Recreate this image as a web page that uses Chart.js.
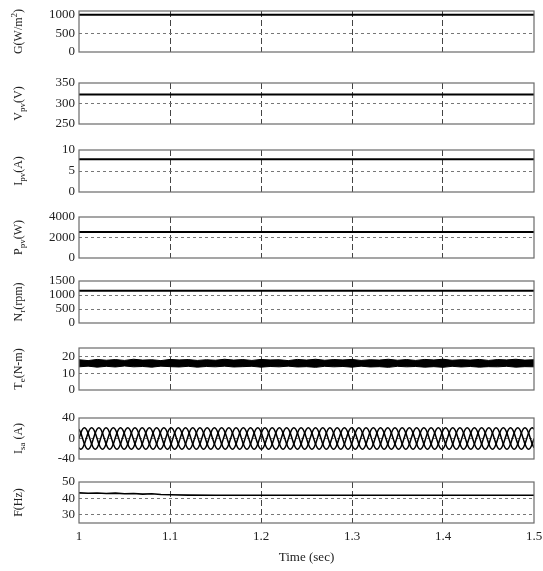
<!DOCTYPE html>
<html>
<head>
<meta charset="utf-8">
<script src="https://cdn.jsdelivr.net/npm/chart.js@4.4.0/dist/chart.umd.min.js"></script>
<style>
  html, body { margin: 0; padding: 0; background: #fff; }
  #wrap { position: relative; width: 543px; height: 571px; overflow: hidden; }
  #wrap canvas { position: absolute; left: 0; }
</style>
</head>
<body>
<div id="wrap"></div>
<script>
// ---- data ----
const timeTicks = [1, 1.1, 1.2, 1.3, 1.4, 1.5];
const flatTime = [1, 1.5];

const gTicks = [0, 500, 1000];
const gValues = [1000, 1000];

const vpvTicks = [250, 300, 350];
const vpvValues = [322, 322];

const ipvTicks = [0, 5, 10];
const ipvValues = [7.8, 7.8];

const ppvTicks = [0, 2000, 4000];
const ppvValues = [2530, 2530];

const nrTicks = [0, 500, 1000, 1500];
const nrValues = [1155, 1155];

// torque ripple band (upper / lower edge)
const teTicks = [0, 10, 20];
const teTime  = [1.00, 1.01, 1.02, 1.03, 1.04, 1.05, 1.06, 1.07, 1.08, 1.09, 1.10, 1.11, 1.12,
                 1.13, 1.14, 1.15, 1.16, 1.17, 1.18, 1.19, 1.20, 1.21, 1.22, 1.23, 1.24, 1.25,
                 1.26, 1.27, 1.28, 1.29, 1.30, 1.31, 1.32, 1.33, 1.34, 1.35, 1.36, 1.37, 1.38,
                 1.39, 1.40, 1.41, 1.42, 1.43, 1.44, 1.45, 1.46, 1.47, 1.48, 1.49, 1.50];
const teUpper = [18.0, 17.5, 18.2, 17.7, 18.1, 17.6, 18.3, 17.8, 18.0, 17.5, 18.2, 17.9, 18.1,
                 17.6, 18.0, 17.7, 18.3, 17.8, 18.1, 17.6, 18.2, 17.9, 18.0, 17.5, 18.2, 17.8,
                 18.3, 17.7, 18.1, 17.9, 18.2, 17.6, 18.0, 17.8, 18.3, 17.7, 18.1, 17.6, 18.2,
                 17.9, 18.3, 17.7, 18.0, 17.8, 18.2, 17.6, 18.1, 17.9, 18.3, 17.8, 18.0];
const teLower = [13.8, 14.2, 13.6, 14.1, 13.7, 14.3, 13.8, 14.0, 13.6, 14.2, 13.9, 13.7, 14.1,
                 13.6, 14.0, 13.8, 14.2, 13.7, 13.9, 14.1, 13.6, 14.0, 13.8, 14.2, 13.7, 13.9,
                 13.5, 14.1, 13.8, 14.0, 13.6, 14.2, 13.7, 13.9, 13.5, 14.1, 13.8, 14.0, 13.6,
                 13.9, 13.5, 14.1, 13.7, 14.0, 13.6, 13.9, 13.8, 14.1, 13.6, 13.9, 13.8];

// stator current: one sampled cycle of phase a, repeated at the supply period
const isaTicks = [-40, 0, 40];
const isaCycle = [0, 10.5, 18.2, 21, 18.2, 10.5, 0, -10.5, -18.2, -21, -18.2, -10.5];
const isaPeriod = 1 / 42;

const fTicks = [30, 40, 50];
const fTime   = [1.00, 1.01, 1.02, 1.03, 1.04, 1.05, 1.06, 1.07, 1.08, 1.09, 1.10, 1.12, 1.15, 1.50];
const fValues = [43.4, 43.1, 43.3, 43.0, 43.2, 42.8, 43.0, 42.6, 42.8, 42.4, 42.2, 42.0, 41.9, 41.9];

// ---- helpers ----
const pts = (xs, ys) => xs.map((x, i) => ({ x: x, y: ys[i] }));

function isaPhase(shift) {
    const n = isaCycle.length, step = isaPeriod / n, out = [];
    for (let k = 0; k * step <= 0.5 + 1e-9; k++) {
        out.push({ x: 1 + k * step, y: isaCycle[(k + shift) % n] });
    }
    return out;
}

const line = (data, w) => ({ data, borderColor: '#000', borderWidth: w || 2, pointRadius: 0, fill: false });

const panels = [
    { top: 11,  bottom: 52,  min: 0,   max: 1100, ticks: gTicks,   label: [['G(W/m', ''], ['2', 'sup'], [')', '']],
      datasets: [line(pts(flatTime, gValues))] },
    { top: 83,  bottom: 124, min: 250, max: 350,  ticks: vpvTicks, label: [['V', ''], ['pv', 'sub'], ['(V)', '']],
      datasets: [line(pts(flatTime, vpvValues))] },
    { top: 150, bottom: 192, min: 0,   max: 10,   ticks: ipvTicks, label: [['I', ''], ['pv', 'sub'], ['(A)', '']],
      datasets: [line(pts(flatTime, ipvValues))] },
    { top: 217, bottom: 258, min: 0,   max: 4000, ticks: ppvTicks, label: [['P', ''], ['pv', 'sub'], ['(W)', '']],
      datasets: [line(pts(flatTime, ppvValues))] },
    { top: 281, bottom: 323, min: 0,   max: 1500, ticks: nrTicks,  label: [['N', ''], ['r', 'sub'], ['(rpm)', '']],
      datasets: [line(pts(flatTime, nrValues))] },
    { top: 348, bottom: 390, min: 0,   max: 25,   ticks: teTicks,  label: [['T', ''], ['e', 'sub'], ['(N-m)', '']],
      datasets: [
          { data: pts(teTime, teUpper), borderColor: '#000', borderWidth: 1, pointRadius: 0, fill: '+1', backgroundColor: '#000' },
          { data: pts(teTime, teLower), borderColor: '#000', borderWidth: 1, pointRadius: 0, fill: false }
      ] },
    { top: 418, bottom: 459, min: -40, max: 40,   ticks: isaTicks, label: [['I', ''], ['sa', 'sub'], [' (A)', '']],
      datasets: [0, 4, 8].map(s => ({ data: isaPhase(s), borderColor: '#000', borderWidth: 1.5, pointRadius: 0, tension: 0.4, fill: false })) },
    { top: 482, bottom: 523, min: 25,  max: 50,   ticks: fTicks,   label: [['F(Hz)', '']],
      datasets: [line(pts(fTime, fValues), 1.6)] }
];

const FONT = "'Liberation Serif', 'DejaVu Serif', serif";

const framePlugin = {
    id: 'frame',
    afterDraw(chart) {
        const a = chart.chartArea, ctx = chart.ctx;
        ctx.save();
        ctx.strokeStyle = '#6a6a6a';
        ctx.lineWidth = 1.2;
        ctx.strokeRect(a.left, a.top, a.right - a.left, a.bottom - a.top);
        ctx.restore();
    }
};

const yLabelPlugin = {
    id: 'ylabel',
    afterDraw(chart, args, opts) {
        const segs = opts.segments;
        if (!segs) return;
        const ctx = chart.ctx, a = chart.chartArea;
        ctx.save();
        const size = s => s === '' ? 12 : 9;
        let total = 0;
        segs.forEach(([t, m]) => { ctx.font = size(m) + 'px ' + FONT; total += ctx.measureText(t).width; });
        ctx.translate(19, (a.top + a.bottom) / 2);
        ctx.rotate(-Math.PI / 2);
        ctx.fillStyle = '#222';
        ctx.textBaseline = 'middle';
        let x = -total / 2;
        segs.forEach(([t, m]) => {
            ctx.font = size(m) + 'px ' + FONT;
            const dy = m === 'sub' ? 3.5 : m === 'sup' ? -4 : 0;
            ctx.fillText(t, x, dy);
            x += ctx.measureText(t).width;
        });
        ctx.restore();
    }
};

const wrap = document.getElementById('wrap');

panels.forEach((p, idx) => {
    const last = idx === panels.length - 1;
    const canvasTop = p.top - 8;
    const canvasH = last ? 571 - canvasTop : (p.bottom - p.top) + 16;
    const cv = document.createElement('canvas');
    cv.width = 543;
    cv.height = canvasH;
    cv.style.top = canvasTop + 'px';
    cv.style.width = '543px';
    cv.style.height = canvasH + 'px';
    wrap.appendChild(cv);

    new Chart(cv.getContext('2d'), {
        type: 'line',
        data: { datasets: p.datasets },
        options: {
            animation: false,
            responsive: false,
            events: [],
            parsing: false,
            layout: { padding: { top: 8, bottom: last ? 0 : 8, left: 0, right: 9 } },
            plugins: {
                legend: { display: false },
                tooltip: { enabled: false },
                ylabel: { segments: p.label }
            },
            scales: {
                x: {
                    type: 'linear', min: 1, max: 1.5,
                    afterBuildTicks: s => { s.ticks = timeTicks.map(v => ({ value: v })); },
                    afterFit: s => {
                        s.height = last ? 48 : 0;
                        s.paddingLeft = 0; s.paddingRight = 0;
                    },
                    grid: {
                        drawTicks: false,
                        color: c => (c.tick && (c.tick.value <= 1 || c.tick.value >= 1.5)) ? 'rgba(0,0,0,0)' : '#444',
                        lineWidth: 1
                    },
                    border: { display: false, dash: [6, 3] },
                    ticks: {
                        display: last, padding: 6, color: '#222', autoSkip: false, maxRotation: 0,
                        font: { family: FONT, size: 13 },
                        callback: v => String(Math.round(v * 10) / 10)
                    },
                    title: {
                        display: last, text: 'Time (sec)', color: '#222',
                        font: { family: FONT, size: 13 }, padding: { top: 0, bottom: 6 }
                    }
                },
                y: {
                    type: 'linear', min: p.min, max: p.max,
                    afterBuildTicks: s => { s.ticks = p.ticks.map(v => ({ value: v })); },
                    afterFit: s => {
                        s.width = 79;
                        s.paddingTop = 0; s.paddingBottom = 0;
                    },
                    grid: {
                        drawTicks: false,
                        color: c => (c.tick && (c.tick.value <= p.min || c.tick.value >= p.max)) ? 'rgba(0,0,0,0)' : '#777',
                        lineWidth: 1
                    },
                    border: { display: false, dash: [3, 3] },
                    ticks: {
                        padding: 4, color: '#222', autoSkip: false,
                        font: { family: FONT, size: 13 },
                        callback: v => String(v)
                    }
                }
            }
        },
        plugins: [framePlugin, yLabelPlugin]
    });
});
</script>
</body>
</html>
